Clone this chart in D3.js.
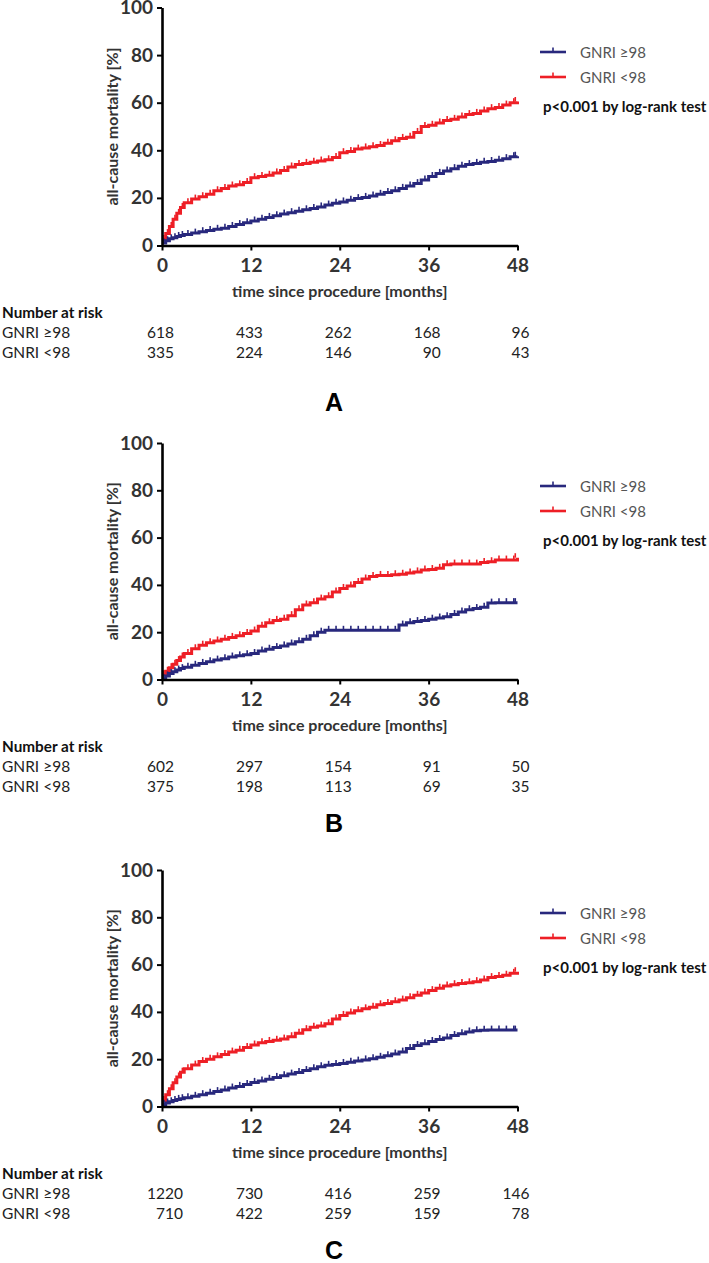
<!DOCTYPE html>
<html>
<head>
<meta charset="utf-8">
<script src="https://cdn.jsdelivr.net/npm/d3@7"></script>
<style>
  body { margin: 0; background: #fff; }
  svg text { font-family: Lato, "Open Sans", sans-serif; }
</style>
</head>
<body>
<div id="chart"></div>
<script>
// Kaplan-Meier curves, all-cause mortality by GNRI group (3 panels)

// time grid in months, shared by all curves
var months = [0, 0.5, 1, 1.5, 2, 2.5, 3, 4, 5, 6, 7, 8, 9, 10, 11, 12, 13, 14, 15, 16,
  17, 18, 19, 20, 21, 22, 23, 24, 25, 26, 27, 28, 29, 30, 31, 32, 33, 34, 35, 36,
  37, 38, 39, 40, 41, 42, 43, 44, 45, 46, 47, 48];

// panel A
var aHigh = [1, 2, 2.8, 3.3, 3.8, 4.2, 4.6, 5.2, 5.8, 6.3, 6.8, 7.3, 8, 8.8, 9.6, 10.3,
  11, 11.8, 12.5, 13.2, 13.8, 14.4, 15, 15.5, 16.2, 17, 17.8, 18.3, 19, 19.7, 20.2, 20.8,
  21.5, 22.3, 23, 24, 25, 26, 27.5, 29, 30.3, 31.3, 32.3, 33.3, 34, 34.5, 35, 35.3, 35.8,
  36.5, 37.3, 37.5];
var aLow = [2.5, 5, 8, 11, 13.5, 16, 18, 19.5, 20.5, 21.5, 23, 24, 25, 25.5, 26.5, 28.5,
  29, 29.5, 30.5, 31.5, 33, 34, 34.5, 35, 35.5, 36, 37, 39, 39.5, 40.5, 41, 41.5, 42, 43,
  44, 45, 45.5, 47.5, 50, 50.5, 51.5, 52.5, 53, 54, 55, 55.5, 56.5, 57.5, 58, 59, 60, 60.5];

// panel B
var bHigh = [0.3, 1.5, 2.5, 3.3, 4, 4.6, 5.2, 6, 6.8, 7.5, 8.2, 8.8, 9.5, 10, 10.5, 11,
  12, 12.8, 13.5, 14.2, 15, 16, 17, 18.5, 20, 20.8, 20.8, 20.8, 20.8, 20.8, 20.8, 20.8,
  20.8, 20.8, 20.8, 23, 24, 24.5, 25, 25.5, 26, 26.5, 27.5, 28.5, 29.5, 30, 30.5, 32.3,
  32.5, 32.5, 32.5, 32.5];
var bLow = [2, 3.5, 5, 6.5, 8, 9.5, 11, 13, 14.5, 15.5, 16.3, 17, 17.8, 18.5, 19.5, 20.5,
  22.5, 24, 25, 25.5, 27, 29.5, 31.5, 32.5, 34, 35, 37, 38.5, 39.5, 41, 42.5, 43.5, 44, 44,
  44.3, 44.5, 45, 45.5, 46.3, 46.5, 47, 48.5, 48.8, 48.8, 48.8, 48.8, 49.5, 49.8, 50.5,
  50.5, 50.5, 51.5];

// panel C
var cHigh = [0.8, 1.5, 2, 2.5, 3, 3.3, 3.7, 4.3, 5, 5.6, 6.3, 7, 7.8, 8.5, 9.3, 10.2,
  10.8, 11.5, 12.3, 13, 13.7, 14.4, 15.2, 16, 16.8, 17.4, 17.8, 18.2, 18.7, 19.2, 19.7,
  20.2, 20.8, 21.5, 22.2, 23, 24.5, 25.8, 26.5, 27.5, 28.3, 29, 30, 30.8, 31.5, 32, 32.2,
  32.3, 32.3, 32.3, 32.3, 32.3];
var cLow = [2.5, 5, 7.5, 10, 12.5, 14.5, 16, 17.5, 19, 20, 21, 22, 23, 23.8, 25, 26, 27,
  27.5, 28, 28.5, 29.5, 31, 32.5, 33.5, 34, 35, 37, 38.5, 39.5, 40.5, 41.3, 42, 43, 43.5,
  44.3, 45, 46, 47, 48, 49, 50, 51, 51.5, 52, 52.3, 52.8, 53.5, 54.5, 55, 55.5, 56.3, 57];

// number at risk
var riskTimes = [0, 12, 24, 36, 48];
var riskAHigh = [618, 433, 262, 168, 96];
var riskALow = [335, 224, 146, 90, 43];
var riskBHigh = [602, 297, 154, 91, 50];
var riskBLow = [375, 198, 113, 69, 35];
var riskCHigh = [1220, 730, 416, 259, 146];
var riskCLow = [710, 422, 259, 159, 78];

var xTicks = [0, 12, 24, 36, 48];
var yTicks = [0, 20, 40, 60, 80, 100];
var groupNames = ["GNRI \u226598", "GNRI <98"];
var panelLetters = ["A", "B", "C"];
var pText = "p<0.001 by log-rank test";

var blue = "#28287d";
var red = "#ee1f26";
var colors = [blue, red];

var svgWidth = 709, svgHeight = 1263;

// layout of the three panels
var panelTops = [7.5, 443, 870];
var panelBottoms = [245.5, 679.5, 1106.5];
var letterOffsets = [165, 152, 152];
var firstColShift = [0, 0, 9];

var panelSeries = [[aHigh, aLow], [bHigh, bLow], [cHigh, cLow]];
var panelRisk = [[riskAHigh, riskALow], [riskBHigh, riskBLow], [riskCHigh, riskCLow]];

var svg = d3.select("#chart")
  .append("svg")
  .attr("width", svgWidth)
  .attr("height", svgHeight);

var xScale = d3.scaleLinear().domain([0, 48]).range([162, 517.5]);

panelTops.forEach(function(top, p) {
  var bottom = panelBottoms[p];
  var yScale = d3.scaleLinear().domain([0, 100]).range([bottom, top]);
  var g = svg.append("g");

  // curves (red under blue)
  [1, 0].forEach(function(s) {
    var vals = panelSeries[p][s];
    var pts = months.map(function(t, i) { return [t, vals[i]]; });

    var line = d3.line()
      .x(d => xScale(d[0]))
      .y(d => yScale(d[1]))
      .curve(d3.curveStepAfter);

    g.append("path")
      .datum(pts)
      .attr("d", line)
      .attr("fill", "none")
      .attr("stroke", colors[s])
      .attr("stroke-width", 3);

    // censor marks
    var marks = pts.map(function(d, i) {
      var tNext = i < pts.length - 1 ? pts[i + 1][0] : 48;
      return [(d[0] + tNext) / 2, d[1]];
    });
    marks[marks.length - 1][0] = 47.7;
    g.selectAll(null)
      .data(marks)
      .enter()
      .append("line")
      .attr("x1", d => xScale(d[0]))
      .attr("x2", d => xScale(d[0]))
      .attr("y1", d => yScale(d[1]))
      .attr("y2", d => yScale(d[1]) - 4.5)
      .attr("stroke", colors[s])
      .attr("stroke-width", 1.6);
  });

  // axes
  var leftAxis = d3.axisLeft(yScale).tickValues(yTicks).tickSize(5).tickSizeOuter(0).tickPadding(4);
  var bottomAxis = d3.axisBottom(xScale).tickValues(xTicks).tickSize(5).tickSizeOuter(0).tickPadding(8);

  var ya = g.append("g")
    .attr("transform", "translate(162,0)")
    .call(leftAxis);
  var xa = g.append("g")
    .attr("transform", `translate(0,${bottom})`)
    .call(bottomAxis);

  [ya, xa].forEach(function(a) {
    a.select(".domain").attr("stroke", "#000").attr("stroke-width", 2.6);
    a.selectAll(".tick line").attr("stroke", "#000").attr("stroke-width", 2);
    a.selectAll(".tick text")
      .attr("fill", "#333")
      .style("font-size", "19px")
      .style("font-weight", "bold")
      .style("font-family", "Lato, 'Open Sans', sans-serif");
  });

  // axis titles
  g.append("text")
    .attr("transform", `translate(118,${(top + bottom) / 2}) rotate(-90)`)
    .attr("text-anchor", "middle")
    .attr("fill", "#333")
    .style("font-size", "16px")
    .style("font-weight", "bold")
    .text("all-cause mortality [%]");

  g.append("text")
    .attr("x", (xScale(0) + xScale(48)) / 2)
    .attr("y", bottom + 51.5)
    .attr("text-anchor", "middle")
    .attr("fill", "#333")
    .style("font-size", "16px")
    .style("font-weight", "bold")
    .text("time since procedure [months]");

  // legend
  groupNames.forEach(function(name, s) {
    var ly = bottom - 193.5 + s * 25;
    g.append("line")
      .attr("x1", 540).attr("x2", 566)
      .attr("y1", ly).attr("y2", ly)
      .attr("stroke", colors[s]).attr("stroke-width", 2.6);
    g.append("line")
      .attr("x1", 553).attr("x2", 553)
      .attr("y1", ly).attr("y2", ly - 4.5)
      .attr("stroke", colors[s]).attr("stroke-width", 1.6);
    g.append("text")
      .attr("x", 580)
      .attr("y", ly + 5.5)
      .attr("fill", "#555")
      .style("font-size", "15px")
      .text(name);
  });

  g.append("text")
    .attr("x", 543)
    .attr("y", bottom - 133.5)
    .attr("fill", "#111")
    .style("font-size", "15px")
    .style("font-weight", "bold")
    .text(pText);

  // number at risk table
  g.append("text")
    .attr("x", 2)
    .attr("y", bottom + 72.5)
    .attr("fill", "#111")
    .style("font-size", "15.3px")
    .style("font-weight", "bold")
    .text("Number at risk");

  groupNames.forEach(function(name, s) {
    var ry = bottom + 92.5 + s * 19.5;
    g.append("text")
      .attr("x", 2)
      .attr("y", ry)
      .attr("fill", "#222")
      .style("font-size", "15.5px")
      .text(name);

    g.selectAll(null)
      .data(panelRisk[p][s])
      .enter()
      .append("text")
      .attr("x", (d, i) => xScale(riskTimes[i]) + 12 + (i === 0 ? firstColShift[p] : 0))
      .attr("y", ry)
      .attr("text-anchor", "end")
      .attr("fill", "#222")
      .style("font-size", "15.5px")
      .text(d => d);
  });

  // panel letter
  g.append("text")
    .attr("x", 334)
    .attr("y", bottom + letterOffsets[p])
    .attr("text-anchor", "middle")
    .attr("fill", "#000")
    .style("font-family", "'Liberation Sans', Arial, sans-serif")
    .style("font-size", "25px")
    .style("font-weight", "bold")
    .text(panelLetters[p]);
});
</script>
</body>
</html>
